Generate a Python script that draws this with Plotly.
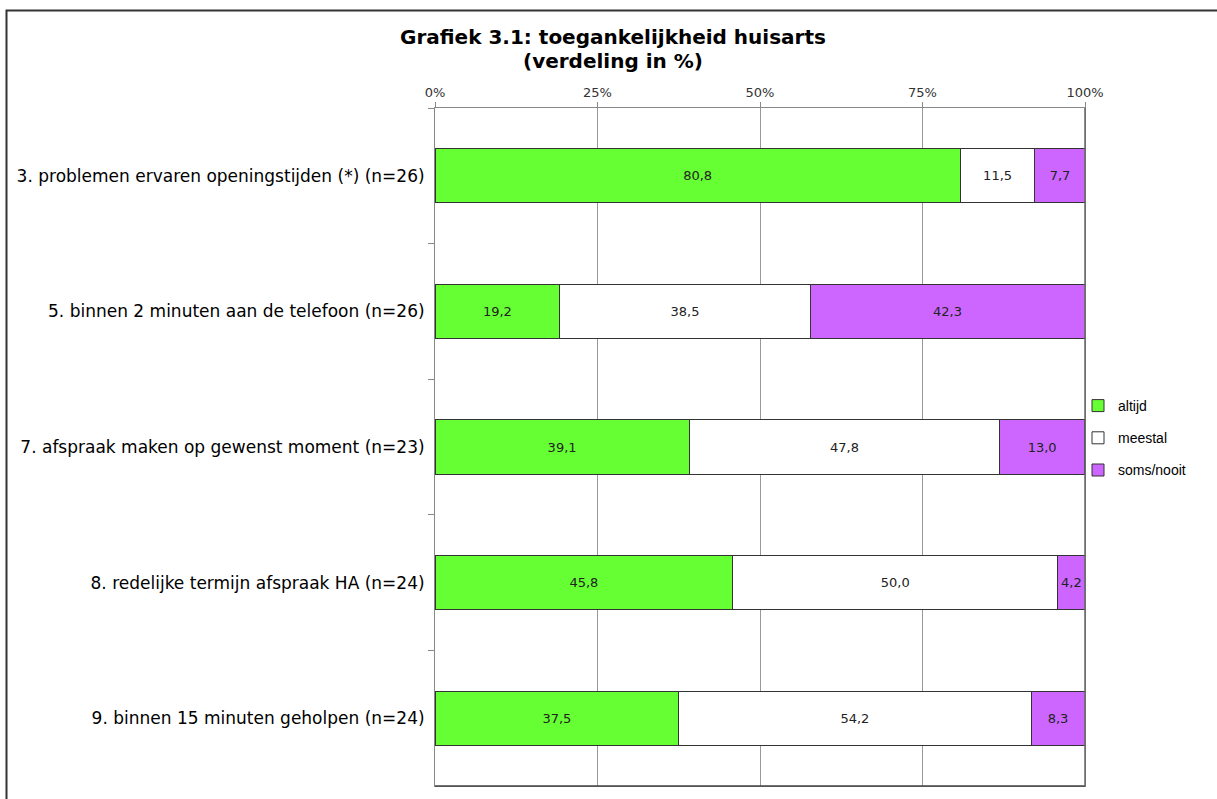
import plotly.graph_objects as go

categories = [
    "3. problemen ervaren openingstijden (*) (n=26)",
    "5. binnen 2 minuten aan de telefoon (n=26)",
    "7. afspraak maken op gewenst moment (n=23)",
    "8. redelijke termijn afspraak HA (n=24)",
    "9. binnen 15 minuten geholpen (n=24)",
]
altijd = [80.8, 19.2, 39.1, 45.8, 37.5]
meestal = [11.5, 38.5, 47.8, 50.0, 54.2]
soms_nooit = [7.7, 42.3, 13.0, 4.2, 8.3]
series_names = ["altijd", "meestal", "soms/nooit"]
colors = ["#66FF33", "#FFFFFF", "#CC66FF"]
tick_vals = [0, 25, 50, 75, 100]
tick_text = ["0%", "25%", "50%", "75%", "100%"]
title_line1 = "Grafiek 3.1: toegankelijkheid huisarts"
title_line2 = "(verdeling in %)"

fig = go.Figure()
for name, vals, col in zip(series_names, [altijd, meestal, soms_nooit], colors):
    fig.add_trace(go.Bar(
        y=categories, x=vals, name=name, orientation="h",
        marker=dict(color=col, line=dict(color="#333333", width=1)),
        text=[f"{v:.1f}".replace(".", ",") for v in vals],
        textposition="inside", insidetextanchor="middle", textangle=0,
        textfont=dict(family="DejaVu Sans", size=13, color="#222222"),
        legendgroup=name,
    ))

W, H = 1217, 799
L, R, T, B = 435, 1085, 108, 786
pw, ph = R - L, B - T
tfont = dict(family="DejaVu Sans", size=20, color="#000000")

fig.update_layout(
    width=W, height=H,
    barmode="stack", bargap=0.6,
    plot_bgcolor="white", paper_bgcolor="white",
    margin=dict(l=L, r=W - R, t=T, b=H - B),
    uniformtext=dict(minsize=13, mode="show"),
    legend=dict(
        x=(1078 - L) / pw, y=(B - 438) / ph, xanchor="left", yanchor="middle",
        font=dict(family="Liberation Sans", size=14, color="#000000"),
        tracegroupgap=11, bgcolor="rgba(0,0,0,0)", itemwidth=30,
    ),
    xaxis=dict(
        side="top", range=[0, 100], tickvals=tick_vals, ticktext=tick_text,
        showgrid=True, gridcolor="#999999", gridwidth=1,
        showline=True, linecolor="#888888", mirror=True,
        ticks="outside", ticklen=5, tickcolor="#888888",
        tickfont=dict(family="DejaVu Sans", size=13, color="#333333"),
        zeroline=False, fixedrange=True,
    ),
    yaxis=dict(
        autorange="reversed", type="category",
        showline=True, linecolor="#888888", mirror=True,
        ticks="outside", ticklen=6, tickcolor="#888888", tickson="boundaries",
        ticklabelstandoff=6,
        tickfont=dict(family="DejaVu Sans", size=17, color="#000000"),
        showgrid=False,
    ),
    annotations=[
        dict(text="<b>" + title_line1 + "</b>", xref="paper", yref="paper",
             x=(613 - L) / pw, y=(B - 37) / ph, xanchor="center", yanchor="middle",
             showarrow=False, font=tfont),
        dict(text="<b>" + title_line2 + "</b>", xref="paper", yref="paper",
             x=(613 - L) / pw, y=(B - 61) / ph, xanchor="center", yanchor="middle",
             showarrow=False, font=tfont),
    ],
    shapes=[dict(
        type="rect", xref="paper", yref="paper",
        x0=(6.5 - L) / pw, x1=(1240 - L) / pw,
        y0=(B - 820) / ph, y1=(B - 10.5) / ph,
        line=dict(color="#333333", width=2), layer="below",
    ), dict(
        type="line", xref="paper", yref="paper",
        x0=0, x1=1, y0=0, y1=0, line=dict(color="#444444", width=1.5),
    ), dict(
        type="line", xref="paper", yref="paper",
        x0=1, x1=1, y0=0, y1=1, line=dict(color="#666666", width=1.5),
    )],
)

fig.write_html("out.html", config={"displayModeBar": False},
               post_script="document.body.style.margin='0px';")
